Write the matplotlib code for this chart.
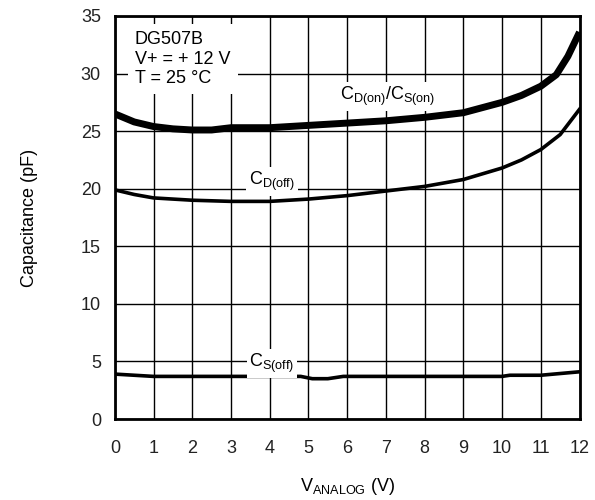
import matplotlib

matplotlib.use("Agg")
import matplotlib.pyplot as plt

# analog voltage (V) and capacitance (pF)
v_on = [0, 0.5, 1, 1.5, 2, 2.5, 3, 4, 5, 6, 7, 8, 9, 10, 10.5, 11, 11.4, 11.7, 12]
c_on = [26.5, 25.8, 25.4, 25.2, 25.1, 25.1, 25.3, 25.3, 25.5, 25.7, 25.9, 26.2, 26.6, 27.5, 28.1, 28.9, 29.9, 31.5, 33.6]

v_doff = [0, 0.5, 1, 2, 3, 4, 5, 6, 7, 8, 9, 10, 10.5, 11, 11.5, 12]
c_doff = [19.9, 19.5, 19.2, 19.0, 18.9, 18.9, 19.1, 19.4, 19.8, 20.2, 20.8, 21.8, 22.5, 23.4, 24.7, 26.9]

v_soff = [0, 1, 4.8, 5.1, 5.5, 5.9, 10, 10.2, 11, 12]
c_soff = [3.9, 3.7, 3.7, 3.5, 3.5, 3.7, 3.7, 3.8, 3.8, 4.1]

x_ticks = list(range(0, 13))
y_ticks = list(range(0, 36, 5))

plt.rcParams["font.family"] = ["Liberation Sans", "DejaVu Sans"]
FS = 13

fig = plt.figure(figsize=(5.95, 5.0), dpi=100)
ax = fig.add_axes([0.193, 0.162, 0.781, 0.806])

ax.plot(v_on, c_on, color="black", linewidth=5.0, solid_capstyle="butt", zorder=3)
ax.plot(v_doff, c_doff, color="black", linewidth=2.6, zorder=3)
ax.plot(v_soff, c_soff, color="black", linewidth=2.6, zorder=3)

ax.set_xlim(0, 12)
ax.set_ylim(0, 35)
ax.set_xticks(x_ticks)
ax.set_yticks(y_ticks)
ax.grid(True, color="black", linewidth=1.0, zorder=1)
ax.set_axisbelow(True)
ax.tick_params(length=0, labelsize=FS, colors="#222222")
ax.tick_params(axis="x", pad=15)
ax.tick_params(axis="y", pad=10)
for s in ax.spines.values():
    s.set_linewidth(2.0)
    s.set_zorder(5)

box = dict(facecolor="white", edgecolor="none", pad=2)

ax.text(0.52, 33.7, "DG507B\nV+ = + 12 V\nT = 25 °C", fontsize=FS, ha="left", va="top",
        linespacing=1.2, zorder=4,
        bbox=dict(facecolor="white", edgecolor="none", boxstyle="square,pad=0.4"))
ax.text(7.05, 28.0, r"C$_{\mathregular{D(on)}}$/C$_{\mathregular{S(on)}}$", fontsize=FS,
        ha="center", va="center", zorder=4, bbox=box)
ax.text(4.06, 20.6, r"C$_{\mathregular{D(off)}}$", fontsize=FS, ha="center", va="center",
        zorder=4, bbox=box)
ax.text(4.06, 4.8, r"C$_{\mathregular{S(off)}}$", fontsize=FS, ha="center", va="center",
        zorder=4, bbox=box)

ax.set_ylabel("Capacitance (pF)", fontsize=FS, labelpad=31)
ax.set_xlabel(r"V$_{\mathregular{ANALOG}}$ (V)", fontsize=FS, labelpad=14)

fig.savefig("out.png", dpi=100)
